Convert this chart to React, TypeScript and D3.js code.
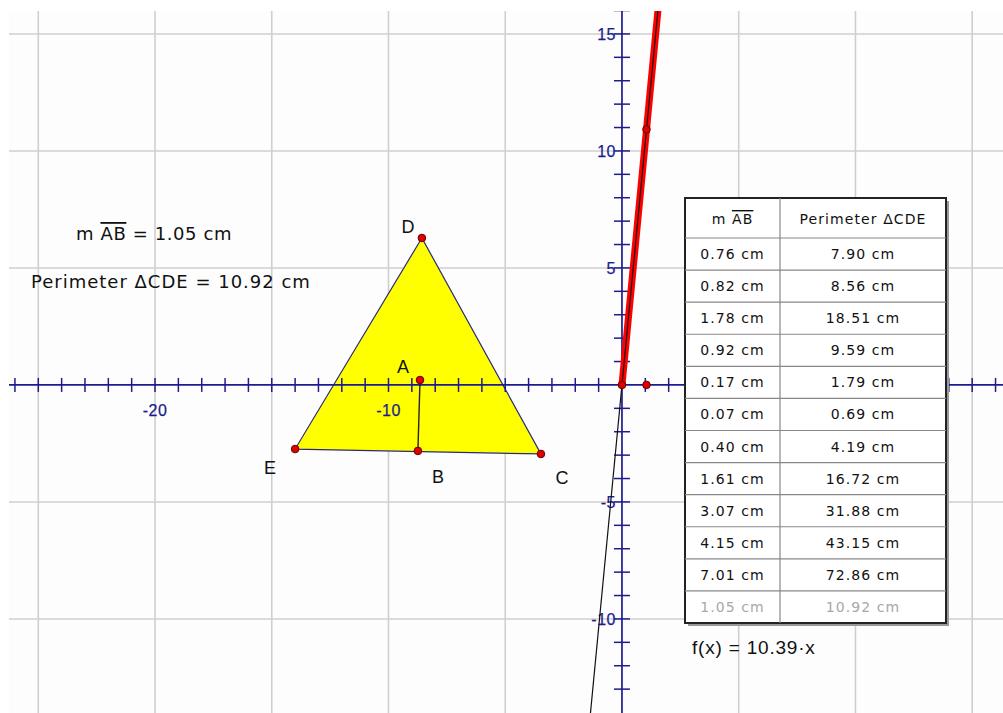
import React from "react";
import * as d3 from "d3";

const mAB = [0.76, 0.82, 1.78, 0.92, 0.17, 0.07, 0.4, 1.61, 3.07, 4.15, 7.01, 1.05];
const perimeter = [7.9, 8.56, 18.51, 9.59, 1.79, 0.69, 4.19, 16.72, 31.88, 43.15, 72.86, 10.92];
const xLabelTicks = [-20, -10];
const yLabelTicks = [15, 10, 5, -5, -10];
const gridX = [-25, -20, -15, -10, -5, 5, 10, 15];
const gridY = [-10, -5, 5, 10, 15];
const slope = 10.39;
const currentAB = 1.05;
const currentPerim = 10.92;
const triangle = [
  { name: "D", x: -8.57, y: 6.28, dx: -14, dy: -5 },
  { name: "E", x: -14.0, y: -2.74, dx: -25, dy: 25 },
  { name: "C", x: -3.47, y: -2.95, dx: 21, dy: 30 },
];
const pointA = { name: "A", x: -8.65, y: 0.21, dx: -17, dy: -7 };
const pointB = { name: "B", x: -8.74, y: -2.82, dx: 20, dy: 32 };

const W = 1003;
const H = 713;
const x = d3.scaleLinear().domain([-26.64, 16.32]).range([0, W]);
const y = d3.scaleLinear().domain([16.45, -14.02]).range([0, H]);

const AX = "#1c1c8e";
const GRID = "#cfcfcf";
const FONT = "'Liberation Sans', Arial, sans-serif";
const WIDE = "'DejaVu Sans', sans-serif";

export default function App() {
  const x0 = x(0);
  const y0 = y(0);
  const left = 9;
  const top = 11;
  const xTicks = d3.range(-26, 17);
  const yTicks = d3.range(-13, 17);

  const tblL = 685, tblR = 946, tblT = 198, hdrB = 238, tblB = 623, colM = 780;
  const rowH = (tblB - hdrB) / mAB.length;

  const line = d3.line<[number, number]>().x((d) => x(d[0])).y((d) => y(d[1]));
  const triPath = line(triangle.map((p) => [p.x, p.y] as [number, number])) + "Z";
  const pts = [...triangle, pointA, pointB];

  return (
    <svg width={W} height={H} style={{ position: "absolute", left: 0, top: 0, background: "#fff" }} fontFamily={FONT}>
      <defs>
        <clipPath id="plot">
          <rect x={left} y={top} width={W - left} height={H - top} />
        </clipPath>
      </defs>
      <rect x={left} y={top} width={W - left} height={H - top} fill="#fdfdfd" />
      <g clipPath="url(#plot)">
        {gridX.map((v) => (
          <line key={"gx" + v} x1={x(v)} x2={x(v)} y1={top} y2={H} stroke={GRID} strokeWidth={1.6} />
        ))}
        {gridY.map((v) => (
          <line key={"gy" + v} y1={y(v)} y2={y(v)} x1={left} x2={W} stroke={GRID} strokeWidth={1.6} />
        ))}

        {/* triangle */}
        <path d={triPath} fill="#ffff00" stroke="#2a2a7a" strokeWidth={1.2} />

        {/* axes */}
        <line x1={left} x2={W} y1={y0} y2={y0} stroke={AX} strokeWidth={1.7} />
        <line x1={x0} x2={x0} y1={top} y2={H} stroke={AX} strokeWidth={1.7} />
        {xTicks.filter((t) => t !== 0).map((t) => (
          <line key={"xt" + t} x1={x(t)} x2={x(t)} y1={y0 - 7} y2={y0 + 7} stroke={AX} strokeWidth={1.5} />
        ))}
        {yTicks.filter((t) => t !== 0).map((t) => (
          <line key={"yt" + t} y1={y(t)} y2={y(t)} x1={x0 - 8} x2={x0 + 8} stroke={AX} strokeWidth={1.5} />
        ))}
        <g fontSize={16} fill={AX} stroke={AX} strokeWidth={0.25} letterSpacing={0.5}>
          {xLabelTicks.map((t) => (
            <text key={"xl" + t} x={x(t)} y={y0 + 31} textAnchor="middle">
              {t}
            </text>
          ))}
          {yLabelTicks.map((t) => (
            <text key={"yl" + t} x={x0 - 6} y={y(t) + 6} textAnchor="end">
              {t}
            </text>
          ))}
        </g>

        <line x1={x(pointA.x)} y1={y(pointA.y)} x2={x(pointB.x)} y2={y(pointB.y)} stroke="#222" strokeWidth={1.4} />

        {/* locus (red) and function graph */}
        <line x1={x(0)} y1={y(0)} x2={x(16.8 / slope)} y2={y(16.8)} stroke="#ff0000" strokeWidth={7} strokeLinecap="round" />
        <line x1={x(-14.5 / slope)} y1={y(-14.5)} x2={x(16.8 / slope)} y2={y(16.8)} stroke="#111" strokeWidth={1.2} />

        {pts.map((p) => (
          <circle key={"pt" + p.name} cx={x(p.x)} cy={y(p.y)} r={3.8} fill="#e00000" stroke="#600" strokeWidth={1} />
        ))}
        {pts.map((p) => (
          <text key={"lb" + p.name} x={x(p.x) + p.dx} y={y(p.y) + p.dy} fontSize={18} fill="#111" textAnchor="middle">
            {p.name}
          </text>
        ))}
        <circle cx={x(0)} cy={y(0)} r={3.8} fill="#e00000" stroke="#600" strokeWidth={1} />
        <circle cx={x(currentAB)} cy={y(0)} r={3.8} fill="#e00000" stroke="#600" strokeWidth={1} />
        <circle cx={x(currentAB)} cy={y(currentPerim)} r={3.8} fill="#e00000" stroke="#600" strokeWidth={1} />
      </g>

      {/* measurements */}
      <text x={76} y={240} fontSize={18} fill="#111" fontFamily={WIDE} letterSpacing={0.6}>
        m <tspan style={{ textDecoration: "overline" }}>AB</tspan> = {currentAB.toFixed(2)} cm
      </text>
      <text x={31} y={288} fontSize={18} fill="#111" fontFamily={WIDE} letterSpacing={1}>
        Perimeter ΔCDE = {currentPerim.toFixed(2)} cm
      </text>

      {/* table */}
      <rect x={tblL + 3} y={tblT + 3} width={tblR - tblL} height={tblB - tblT} fill="#999" />
      <rect x={tblL} y={tblT} width={tblR - tblL} height={tblB - tblT} fill="#fff" stroke="#222" strokeWidth={2} />
      <line x1={colM} x2={colM} y1={tblT} y2={tblB} stroke="#888" strokeWidth={1.2} />
      {mAB.map((_, i) => (
        <line key={"hl" + i} x1={tblL} x2={tblR} y1={hdrB + i * rowH} y2={hdrB + i * rowH} stroke="#888" strokeWidth={1.2} />
      ))}
      <g fontFamily={WIDE} fontSize={14} letterSpacing={1.1}>
        <text x={(tblL + colM) / 2} y={224} fill="#111" textAnchor="middle">
          m <tspan style={{ textDecoration: "overline" }}>AB</tspan>
        </text>
        <text x={(colM + tblR) / 2} y={224} fill="#111" textAnchor="middle">
          Perimeter ΔCDE
        </text>
        {mAB.map((v, i) => {
          const last = i === mAB.length - 1;
          const col = last ? "#a8a8a8" : "#111";
          const cy = hdrB + i * rowH + rowH / 2 + 5;
          return (
            <g key={"row" + i}>
              <text x={(tblL + colM) / 2} y={cy} fill={col} textAnchor="middle">
                {v.toFixed(2)} cm
              </text>
              <text x={(colM + tblR) / 2} y={cy} fill={col} textAnchor="middle">
                {perimeter[i].toFixed(2)} cm
              </text>
            </g>
          );
        })}
      </g>
      <text x={692} y={654} fontSize={19} fill="#111" letterSpacing={0.8}>
        f(x) = {slope}·x
      </text>
    </svg>
  );
}
